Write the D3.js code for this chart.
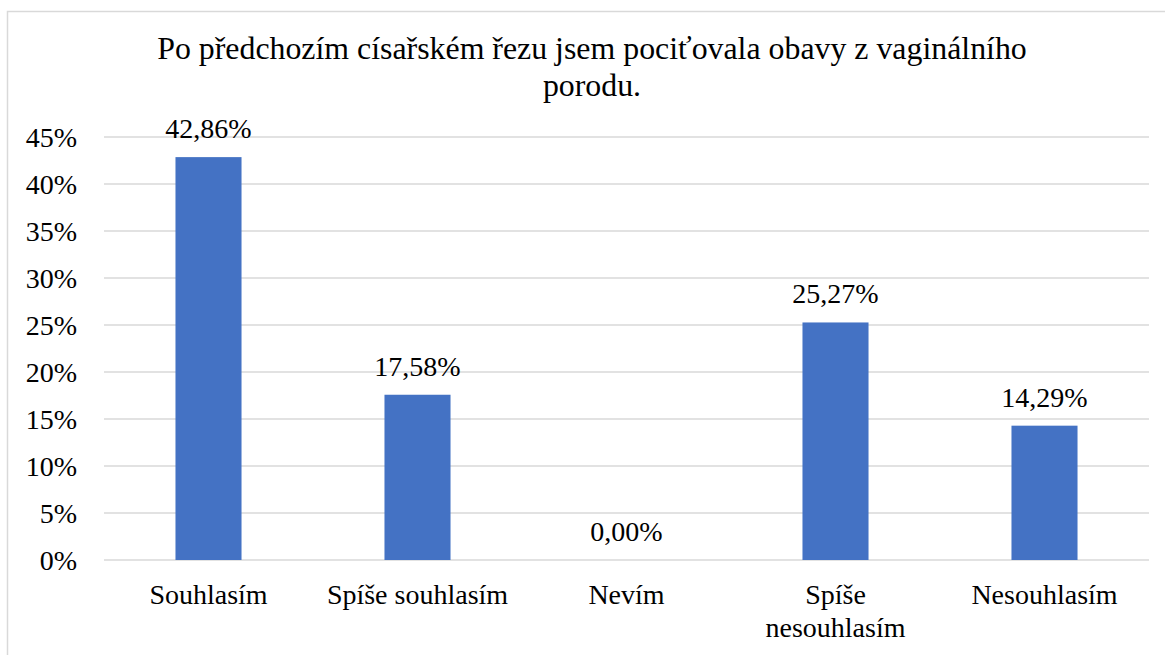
<!DOCTYPE html>
<html>
<head>
<meta charset="utf-8">
<script src="https://cdn.jsdelivr.net/npm/d3@7"></script>
</head>
<body style="margin:0">
<svg class="chart" width="1165" height="655"></svg>
<script>
var categories = ["Souhlasím", "Spíše souhlasím", "Nevím", "Spíše nesouhlasím", "Nesouhlasím"];
var values = [42.86, 17.58, 0.00, 25.27, 14.29];
var yTicks = [0, 5, 10, 15, 20, 25, 30, 35, 40, 45];
var titleLines = ["Po předchozím císařském řezu jsem pociťovala obavy z vaginálního", "porodu."];

function show() {
    var W = 1165, H = 655;
    var margin = { top: 137, bottom: 95, right: 16, left: 104 },
        width = W - margin.left - margin.right,
        height = H - margin.top - margin.bottom;

    var svg = d3.select(".chart");

    // outer frame (runs off right/bottom like the source)
    svg.append("rect")
        .attr("x", 7.5).attr("y", 11.5)
        .attr("width", W + 20).attr("height", H + 20)
        .attr("fill", "none").attr("stroke", "#d9d9d9").attr("stroke-width", 1.5);

    var title = svg.selectAll("text.title").data(titleLines).enter()
        .append("text")
        .attr("class", "title")
        .attr("x", 592)
        .attr("y", function(d, i) { return 59 + i * 37; })
        .attr("text-anchor", "middle")
        .attr("font-family", function() { return "serif"; })
        .attr("font-size", 29)
        .text(function(d) { return d; });
    var len = title.node().getComputedTextLength();
    if (len > 0) title.attr("font-size", 29 * 870 / len);

    var chart = svg.append("g")
        .attr("transform", "translate(" + margin.left + "," + margin.top + ")");

    var x = d3.scaleBand().domain(categories).range([0, width]).paddingInner(0.684).paddingOuter(0.342);
    var y = d3.scaleLinear().domain([0, 45]).range([height, 0]);

    chart.selectAll("line.grid").data(yTicks).enter()
        .append("line")
        .attr("class", "grid")
        .attr("x1", 0).attr("x2", width)
        .attr("y1", function(d) { return y(d); })
        .attr("y2", function(d) { return y(d); })
        .attr("stroke", "#d9d9d9").attr("stroke-width", 1.5);

    chart.selectAll("text.tick").data(yTicks).enter()
        .append("text")
        .attr("class", "tick")
        .attr("x", -27)
        .attr("y", function(d) { return y(d) + 10; })
        .attr("text-anchor", "end")
        .attr("font-family", function() { return "serif"; })
        .attr("font-size", 28)
        .text(function(d) { return d + "%"; });

    chart.selectAll("rect.bar").data(values).enter()
        .append("rect")
        .attr("class", "bar")
        .attr("x", function(d, i) { return x(categories[i]); })
        .attr("width", x.bandwidth())
        .attr("y", function(d) { return y(d); })
        .attr("height", function(d) { return height - y(d); })
        .attr("fill", "#4472c4");

    chart.selectAll("text.value").data(values).enter()
        .append("text")
        .attr("class", "value")
        .attr("x", function(d, i) { return x(categories[i]) + x.bandwidth() / 2; })
        .attr("y", function(d) { return y(d) - 19; })
        .attr("text-anchor", "middle")
        .attr("font-family", function() { return "serif"; })
        .attr("font-size", 28)
        .text(function(d) { return d.toFixed(2).replace(".", ",") + "%"; });

    // category labels, the long one wrapped on two lines
    var catLines = [];
    categories.forEach(function(c) {
        var parts = c === "Spíše nesouhlasím" ? ["Spíše", "nesouhlasím"] : [c];
        parts.forEach(function(p, i) { catLines.push({ cat: c, text: p, line: i }); });
    });
    chart.selectAll("text.cat").data(catLines).enter()
        .append("text")
        .attr("class", "cat")
        .attr("x", function(d) { return x(d.cat) + x.bandwidth() / 2; })
        .attr("y", function(d) { return height + 44 + d.line * 33; })
        .attr("text-anchor", "middle")
        .attr("font-family", function() { return "serif"; })
        .attr("font-size", 28)
        .text(function(d) { return d.text; });
}
show();
</script>
</body>
</html>
